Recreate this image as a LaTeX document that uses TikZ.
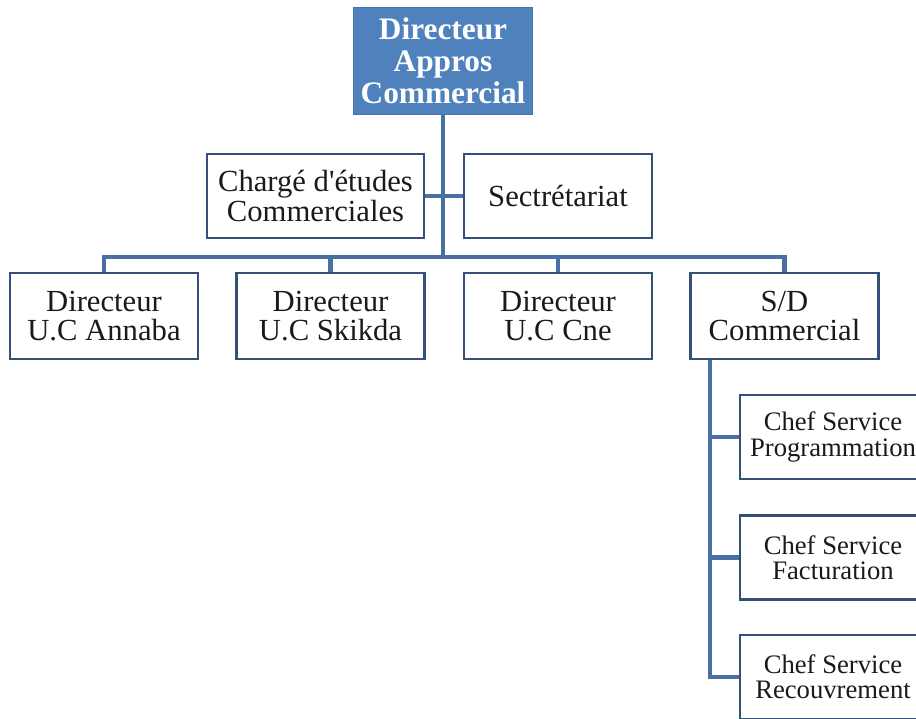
\documentclass[tikz,border=0pt]{standalone}
\usepackage{fontspec}
\setmainfont{Liberation Serif}
\usetikzlibrary{backgrounds}
\pgfdeclarelayer{canvas}
\pgfsetlayers{canvas,background,main}
\definecolor{conn}{HTML}{4A6FA5}
\definecolor{bord}{HTML}{34507A}
\definecolor{topfill}{HTML}{4F81BD}
\definecolor{txt}{HTML}{1A1A1A}
\tikzset{
  x=0.75pt, y=-0.75pt,
  boxA/.style={draw=bord, line width=2pt, fill=white, text=txt, align=center,
     inner sep=0pt, font=\fontsize{23}{22}\selectfont},
  boxB/.style={draw=bord, line width=2pt, fill=white, text=txt, align=center,
     inner sep=0pt, minimum width=139.5pt, minimum height=63pt,
     font=\fontsize{20}{19}\selectfont},
  topbox/.style={draw=topfill!90!black, line width=1pt, fill=topfill, text=white, align=center,
     inner sep=0pt, minimum width=134.25pt, minimum height=80pt,
     font=\fontsize{23.5}{24}\selectfont\bfseries},
  link/.style={draw=conn, line width=3.6pt},
}
\begin{document}
\begin{tikzpicture}
\useasboundingbox (0,0) rectangle (916,718);
\begin{pgfonlayer}{canvas}
\fill[white] (0,0) rectangle (916,718);
\end{pgfonlayer}
% nodes
\node[topbox] (top) at (443,61) {Directeur\\Appros\\Commercial};
\node[boxA, minimum width=162.75pt, minimum height=63pt] (ch) at (315.5,196) {Chargé d\textquotesingle études\\Commerciales};
\node[boxA, minimum width=141pt, minimum height=63pt] (sec) at (558,196) {Sectrétariat};
\node[boxA, minimum width=141pt, minimum height=64.5pt] (A) at (104,316) {Directeur\\U.C Annaba};
\node[boxA, minimum width=141pt, minimum height=64.5pt] (B) at (330.5,316) {Directeur\\U.C Skikda};
\node[boxA, minimum width=141pt, minimum height=64.5pt] (C) at (558,316) {Directeur\\U.C Cne};
\node[boxA, minimum width=141pt, minimum height=64.5pt] (SD) at (784.5,316) {S/D\\Commercial};
\node[boxB] (p1) at (833,437) {Chef Service\\Programmation};
\node[boxB] (p2) at (833,557.5) {Chef Service\\Facturation};
\node[boxB] (p3) at (833,677) {Chef Service\\Recouvrement};
\coordinate (bus) at (443,257);
\coordinate (sdv) at (710,358);
% connectors behind the boxes
\begin{pgfonlayer}{background}
\draw[link] (top.south) -- (top.south |- bus);
\draw[link] (ch.east) -- (sec.west);
\draw[link] (A.north) |- (SD.north |- bus) -- (SD.north);
\draw[link] (B.north) -- (B.north |- bus);
\draw[link] (C.north) -- (C.north |- bus);
\draw[link] (sdv) |- (p3.west);
\draw[link] (sdv |- p1.west) -- (p1.west);
\draw[link] (sdv |- p2.west) -- (p2.west);
\end{pgfonlayer}
\end{tikzpicture}
\end{document}
